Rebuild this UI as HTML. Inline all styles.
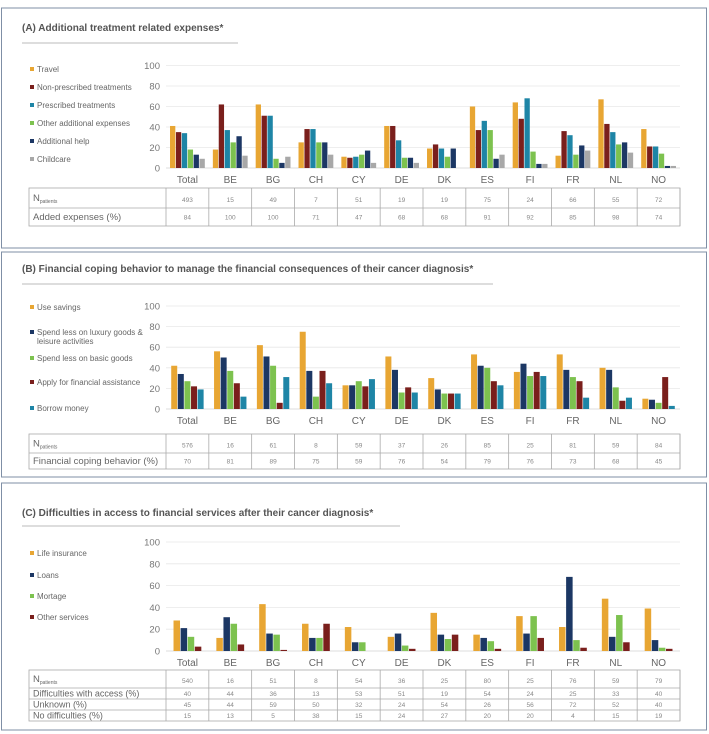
<!DOCTYPE html>
<html><head><meta charset="utf-8">
<style>
body{margin:0;background:#fff;font-family:"Liberation Sans",sans-serif;}
svg{display:block}
</style></head>
<body>
<svg id="s" width="709" height="734" xmlns="http://www.w3.org/2000/svg" font-family="Liberation Sans, sans-serif"></svg>
<script>
const categories=["Total","BE","BG","CH","CY","DE","DK","ES","FI","FR","NL","NO"];
// Panel A
const aSeries=["Travel","Non-prescribed treatments","Prescribed treatments","Other additional expenses","Additional help","Childcare"];
const aTravel=[41,18,62,25,11,41,19,60,64,12,67,38];
const aNonPres=[35,62,51,38,10,41,23,37,48,36,43,21];
const aPres=[34,37,51,38,11,27,19,46,68,32,35,21];
const aOther=[18,25,9,25,13,10,11,37,16,13,23,14];
const aHelp=[13,31,5,25,17,10,19,9,4,22,25,2];
const aChild=[9,12,11,13,5,5,0,13,4,17,15,2];
const aN=[493,15,49,7,51,19,19,75,24,66,55,72];
const aAdded=[84,100,100,71,47,68,68,91,92,85,98,74];
// Panel B
const bSeries=["Use savings","Spend less on luxury goods &|leisure activities","Spend less on basic goods","Apply for financial assistance","Borrow money"];
const bSavings=[42,56,62,75,23,51,30,53,36,53,40,10];
const bLuxury=[34,50,51,37,23,38,19,42,44,38,38,9];
const bBasic=[27,37,42,12,27,16,15,40,32,31,21,6];
const bApply=[22,25,6,37,22,21,15,27,36,27,8,31];
const bBorrow=[19,12,31,25,29,16,15,23,32,11,11,3];
const bN=[576,16,61,8,59,37,26,85,25,81,59,84];
const bCoping=[70,81,89,75,59,76,54,79,76,73,68,45];
// Panel C
const cSeries=["Life insurance","Loans","Mortage","Other services"];
const cLife=[28,12,43,25,22,13,35,15,32,22,48,39];
const cLoans=[21,31,16,12,8,16,15,12,16,68,13,10];
const cMort=[13,25,15,12,8,5,11,9,32,10,33,3];
const cOther=[4,6,1,25,0,2,15,2,12,3,8,2];
const cN=[540,16,51,8,54,36,25,80,25,76,59,79];
const cDiff=[40,44,36,13,53,51,19,54,24,25,33,40];
const cUnk=[45,44,59,50,32,24,54,26,56,72,52,40];
const cNo=[15,13,5,38,15,24,27,20,20,4,15,19];
const yTicks=[0,20,40,60,80,100];

const ORANGE="#E8A633",RED="#7A1F1C",TEAL="#1E85A6",GREEN="#7DC24F",NAVY="#1C3764",GRAY="#A8A8A8";
const svg=document.getElementById('s');
const NS="http://www.w3.org/2000/svg";
function el(tag,attrs,parent){const e=document.createElementNS(NS,tag);for(const k in attrs)e.setAttribute(k,attrs[k]);(parent||svg).appendChild(e);return e;}
function txt(s,attrs,parent){const t=el('text',attrs,parent);t.textContent=s;return t;}

const X0=166,X1=680,BW=(X1-X0)/12;
function xBand(i){return X0+i*BW;}

function panel(p){
  const g=el('g',{});
  
  
  const r=el('rect',{x:1.5,y:p.top,width:705,height:p.bottom-p.top,fill:'#fff',stroke:'#7f8fa6','stroke-width':1},g);
  
  const t=txt(p.title,{x:22,y:p.titleY,'font-size':10,'font-weight':'bold',fill:'#555'},g);
  
  const rl=el('line',{x1:22,x2:p.ruleX2,y1:p.ruleY,y2:p.ruleY,stroke:'#bbb','stroke-width':1},g);
  
  const y=v=>p.y0-(p.y0-p.y100)*v/100;
  yTicks.forEach(v=>{
    if(v>0){const gl=el('line',{x1:X0,x2:X1,y1:y(v),y2:y(v),stroke:'#e8e8e8','stroke-width':0.8},g);
      }
    const tl=txt(String(v),{x:160,y:y(v)+3.5,'font-size':9.5,fill:'#777','text-anchor':'end'},g);
    
  });
  const ax=el('line',{x1:X0,x2:X1,y1:p.y0,y2:p.y0,stroke:'#d0d0d0','stroke-width':0.8},g);
  
  const n=p.series.length,bw=p.bw,gap=0.6,gw=n*bw+(n-1)*gap;
  categories.forEach((c,i)=>{
    const cx=xBand(i)+BW/2;
    p.series.forEach((arr,j)=>{
      const v=arr[i];const bx=cx-gw/2+j*(bw+gap);
      const b=el('rect',{x:bx,y:y(v),width:bw,height:p.y0-y(v),fill:p.colors[j]},g);
      
      
    });
    const xl=txt(c,{x:cx,y:p.y0+15,'font-size':10,fill:'#666','text-anchor':'middle'},g);
    
  });
  p.legend.forEach((name,j)=>{
    const ly=p.legY[j];
    const sq=el('rect',{x:30,y:ly-5,width:4,height:4,fill:p.colors[j]},g);
    
    const parts=name.split('|');
    parts.forEach((s,k)=>{
      const lt=txt(s,{x:37,y:ly+k*9,'font-size':8,fill:'#666'},g);
      
    });
  });
  const tb=p.table,rows=tb.rows;
  const T0=tb.top;let yy=T0;
  const tbl=el('g',{},g);
  const tot=rows.reduce((a,r)=>a+r.h,0);
  el('rect',{x:29,y:T0,width:X1-29,height:tot,fill:'none',stroke:'#aaa','stroke-width':0.8},tbl);
  for(let i=0;i<=12;i++){el('line',{x1:xBand(i),x2:xBand(i),y1:T0,y2:T0+tot,stroke:'#aaa','stroke-width':0.8},tbl);}
  rows.forEach((r,ri)=>{
    if(ri>0)el('line',{x1:29,x2:X1,y1:yy,y2:yy,stroke:'#aaa','stroke-width':0.8},tbl);
    const mid=yy+r.h/2;
    const lab=txt('',{x:r.lx||33,y:mid+3,'font-size':r.ls||9.5,fill:'#666'},tbl);
    if(r.sub){lab.textContent='N';const ts=el('tspan',{'font-size':5,dy:2},lab);ts.textContent=r.sub;}
    else lab.textContent=r.label;
    
    r.vals.forEach((v,i)=>{
      const tv=txt(String(v),{x:xBand(i)+BW/2,y:mid+(r.sub?4:2.5),'font-size':6.5,fill:'#888','text-anchor':'middle'},tbl);
      
    });
    yy+=r.h;
  });
}

panel({name:'panel-a-expenses',top:8,bottom:248,title:'(A) Additional treatment related expenses*',titleY:31,ruleY:43,ruleX2:238,
  y100:65.5,y0:168,bw:5.3,series:[aTravel,aNonPres,aPres,aOther,aHelp,aChild],colors:[ORANGE,RED,TEAL,GREEN,NAVY,GRAY],
  legend:aSeries,legY:[72,90,108,126,144,162],
  table:{top:188,rows:[{sub:'patients',vals:aN,h:20},{label:'Added expenses (%)',vals:aAdded,h:18}]}});
panel({name:'panel-b-coping',top:252,bottom:477,title:'(B) Financial coping behavior to manage the financial consequences of their cancer diagnosis*',titleY:272,ruleY:284,ruleX2:493,
  y100:306,y0:409,bw:6,series:[bSavings,bLuxury,bBasic,bApply,bBorrow],colors:[ORANGE,NAVY,GREEN,RED,TEAL],
  legend:bSeries,legY:[310,335,361,385,411],
  table:{top:434,rows:[{sub:'patients',vals:bN,h:19},{label:'Financial coping behavior (%)',vals:bCoping,h:16}]}});
panel({name:'panel-c-access',top:483,bottom:730,title:'(C) Difficulties in access to financial services after their cancer diagnosis*',titleY:516,ruleY:526,ruleX2:400,
  y100:542,y0:651,bw:6.5,series:[cLife,cLoans,cMort,cOther],colors:[ORANGE,NAVY,GREEN,RED],
  legend:cSeries,legY:[556,578,599,620],
  table:{top:670,rows:[{sub:'patients',vals:cN,h:18},{label:'Difficulties with access (%)',vals:cDiff,h:11,ls:9},{label:' Unknown (%)',vals:cUnk,h:11,ls:9},{label:' No difficulties (%)',vals:cNo,h:11,ls:9}]}});
</script>
</body></html>
